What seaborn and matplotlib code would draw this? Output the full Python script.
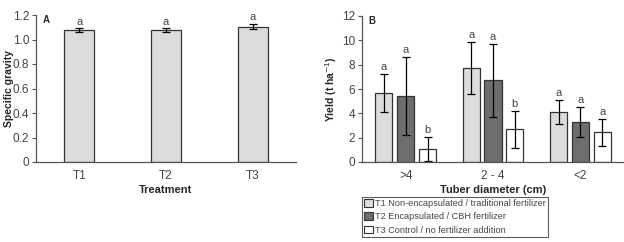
import numpy as np
import pandas as pd
import matplotlib
matplotlib.use('Agg')
import matplotlib.pyplot as plt
from matplotlib.patches import Patch
import seaborn as sns

# Panel A data
treatments = ['T1', 'T2', 'T3']
sg_mean = [1.075, 1.075, 1.105]
sg_err = [0.015, 0.015, 0.02]
sg_letters = ['a', 'a', 'a']

# Panel B data
diameters = ['>4', '2 - 4', '<2']
yield_t1 = [5.7, 7.75, 4.12]
yield_t2 = [5.45, 6.7, 3.28]
yield_t3 = [1.05, 2.68, 2.45]
err_t1 = [1.55, 2.15, 1.0]
err_t2 = [3.2, 3.0, 1.22]
err_t3 = [1.0, 1.52, 1.12]
letters_t1 = ['a', 'a', 'a']
letters_t2 = ['a', 'a', 'a']
letters_t3 = ['b', 'b', 'a']
legend_labels = ['T1 Non-encapsulated / traditional fertilizer',
                 'T2 Encapsulated / CBH fertilizer',
                 'T3 Control / no fertilizer addition']

sns.set_style('white')
plt.rcParams['font.family'] = ['Liberation Sans Narrow', 'Liberation Sans', 'DejaVu Sans']
plt.rcParams['font.size'] = 8

colors = ['#dcdcdc', '#6e6e6e', '#ffffff']
txt = '#444444'
W, H = 624, 242

fig = plt.figure(figsize=(W / 100, H / 100), dpi=100)
axA = fig.add_axes([36 / W, (H - 162) / H, 260 / W, 147 / H])
axB = fig.add_axes([362 / W, (H - 162) / H, 262 / W, 146 / H])

def style_axis(ax, ncat):
    sns.despine(ax=ax)
    for s in ['left', 'bottom']:
        ax.spines[s].set_color('#555555')
        ax.spines[s].set_linewidth(0.9)
    ax.set_xlim(-0.5, ncat - 0.5)
    ax.set_xticks(np.arange(-0.5, ncat), labels=[''] * (ncat + 1))
    ax.tick_params(axis='x', which='major', length=3, color='#555555', direction='out')
    ax.tick_params(axis='x', which='minor', length=0, labelsize=8.5, labelcolor=txt, pad=6)
    ax.tick_params(axis='y', length=3, color='#555555', direction='out', labelsize=8.5,
                   labelcolor=txt, pad=2, left=True)

# Panel A
dfA = pd.DataFrame({'Treatment': treatments, 'sg': sg_mean})
sns.barplot(data=dfA, x='Treatment', y='sg', color=colors[0], width=0.35,
            edgecolor='#333333', linewidth=0.9, errorbar=None, ax=axA, saturation=1)
xs = [p.get_x() + p.get_width() / 2 for p in axA.patches]
axA.errorbar(xs, sg_mean, yerr=sg_err, fmt='none', ecolor='black', elinewidth=0.9,
             capsize=3, capthick=0.9)
for x, m, e, l in zip(xs, sg_mean, sg_err, sg_letters):
    axA.text(x, m + e + 0.015, l, ha='center', va='bottom', fontsize=8, color=txt)
axA.set_ylim(0, 1.2)
axA.set_yticks(np.arange(0, 1.21, 0.2))
axA.set_yticklabels(['0'] + ['%.1f' % v for v in np.arange(0.2, 1.21, 0.2)])
style_axis(axA, 3)
axA.set_xticks(range(3), labels=treatments, minor=True)
axA.set_xlabel('Treatment', fontweight='bold', fontsize=8, labelpad=2)
axA.set_ylabel('Specific gravity', fontweight='bold', fontsize=7.5)
axA.yaxis.set_label_coords(-0.085, 0.5)
axA.text(0.025, 1.0, 'A', transform=axA.transAxes, fontweight='bold', fontsize=7, va='top')

# Panel B
dfB = pd.DataFrame({
    'Diameter': diameters * 3,
    'Treatment': ['T1'] * 3 + ['T2'] * 3 + ['T3'] * 3,
    'Yield': yield_t1 + yield_t2 + yield_t3,
})
sns.barplot(data=dfB, x='Diameter', y='Yield', hue='Treatment', palette=colors,
            width=0.75, gap=0.22, edgecolor='#333333', linewidth=0.9, errorbar=None,
            ax=axB, saturation=1, legend=False)
means = yield_t1 + yield_t2 + yield_t3
errs = err_t1 + err_t2 + err_t3
lets = letters_t1 + letters_t2 + letters_t3
xsB = [p.get_x() + p.get_width() / 2 for p in axB.patches][:9]
axB.errorbar(xsB, means, yerr=errs, fmt='none', ecolor='black', elinewidth=0.9,
             capsize=3, capthick=0.9)
for x, m, e, l in zip(xsB, means, errs, lets):
    axB.text(x, m + e + 0.15, l, ha='center', va='bottom', fontsize=8, color=txt)
axB.set_ylim(0, 12)
axB.set_yticks(np.arange(0, 13, 2))
style_axis(axB, 3)
axB.set_xticks(range(3), labels=diameters, minor=True)
axB.set_xlabel('Tuber diameter (cm)', fontweight='bold', fontsize=8, labelpad=2)
axB.set_ylabel('Yield (t ha$^{-1}$)', fontweight='bold', fontsize=7.5)
axB.yaxis.set_label_coords(-0.088, 0.5)
axB.text(0.025, 1.0, 'B', transform=axB.transAxes, fontweight='bold', fontsize=7, va='top')

handles = [Patch(facecolor=c, edgecolor='#333333', linewidth=0.8) for c in colors]
leg = fig.legend(handles, legend_labels, loc='upper left',
                 bbox_to_anchor=(362 / W, 1 - 197 / H), frameon=True, fancybox=False,
                 fontsize=6.6, handlelength=0.9, handleheight=0.9, handletextpad=0.3,
                 borderpad=0.25, labelspacing=0.45, borderaxespad=0)
leg.get_frame().set_edgecolor('#333333')
leg.get_frame().set_linewidth(0.8)
for t in leg.get_texts():
    t.set_color(txt)

fig.savefig('out.png', dpi=100)
